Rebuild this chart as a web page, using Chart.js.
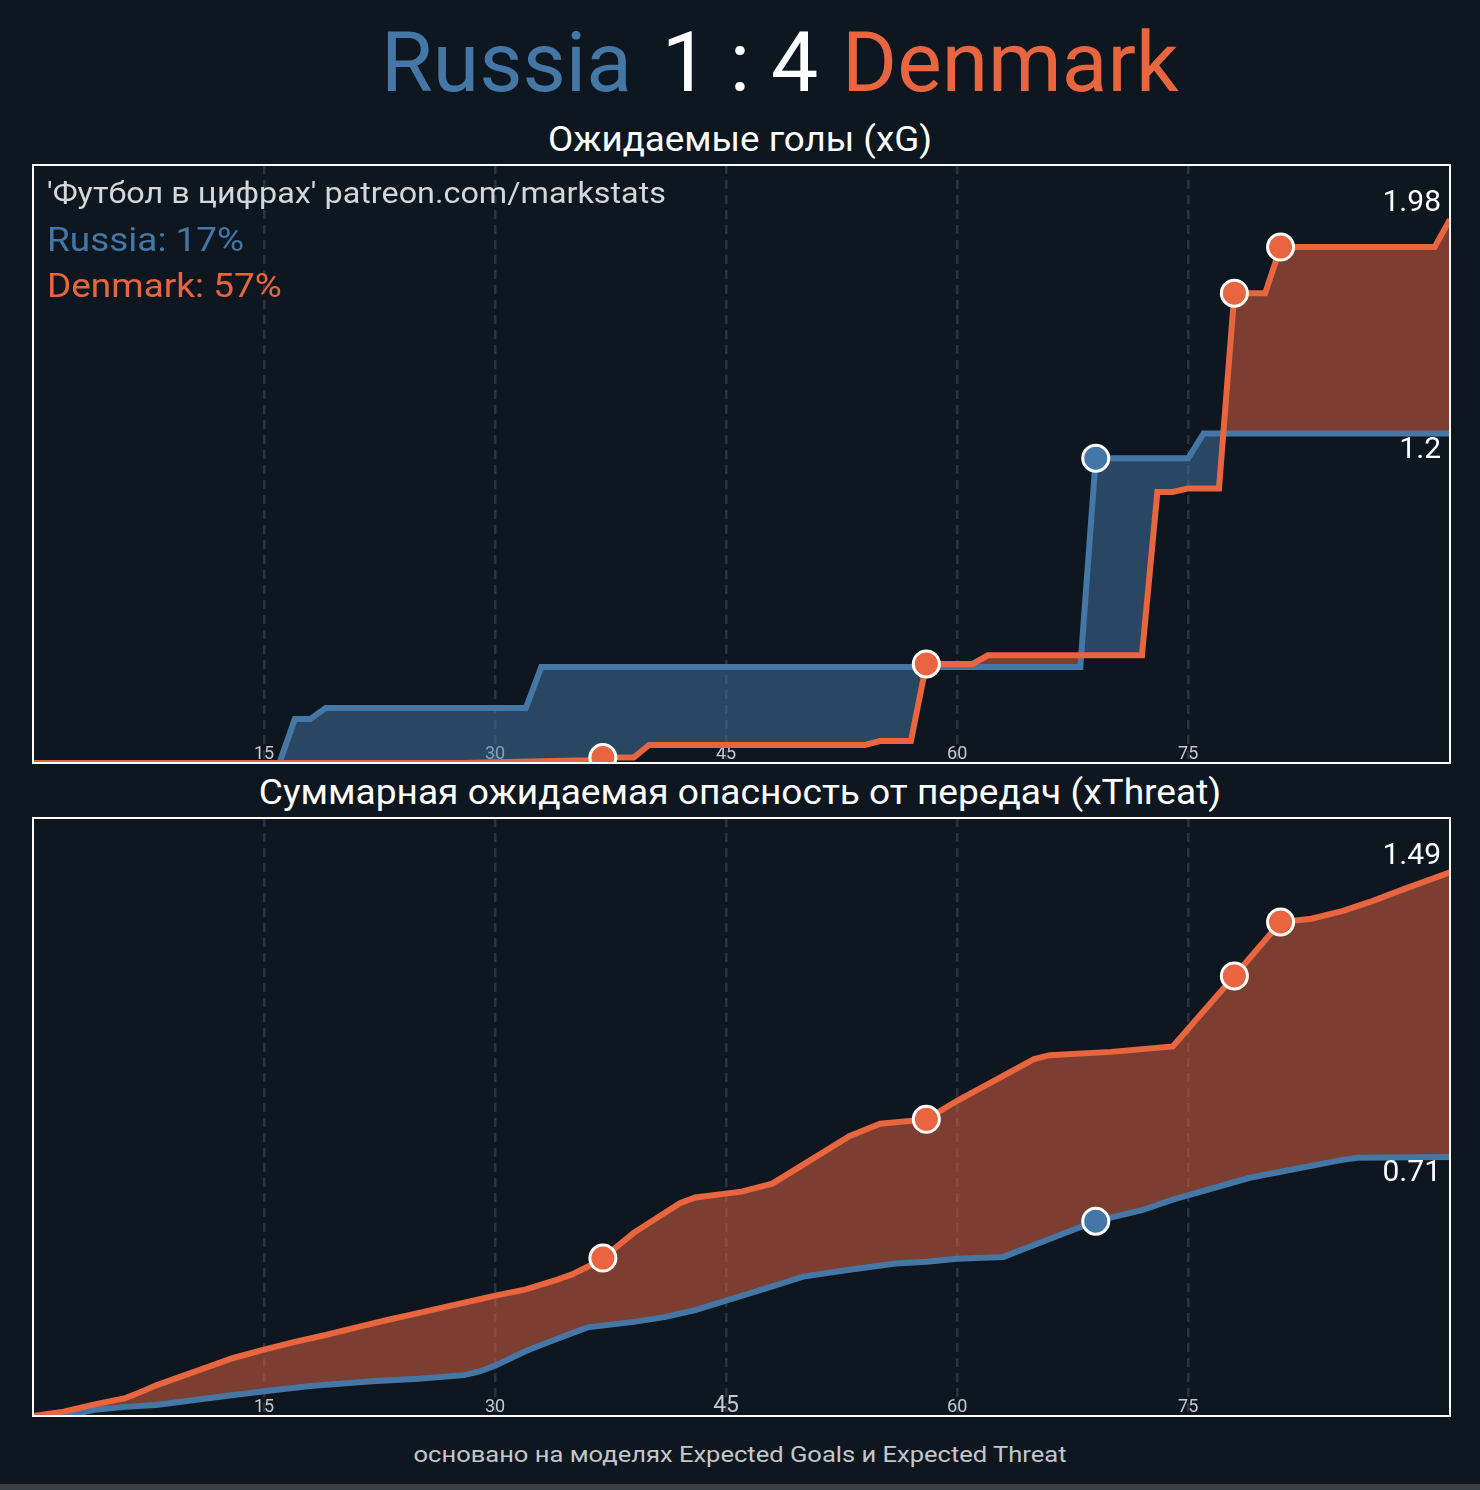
<!DOCTYPE html>
<html>
<head>
<meta charset="utf-8">
<script src="https://cdn.jsdelivr.net/npm/chart.js@4.4.0/dist/chart.umd.min.js"></script>
<style>
  body { margin: 0; background: #0e1720; font-family: Roboto, sans-serif; }
  #page { position: relative; width: 1480px; height: 1490px; overflow: hidden; background: #0e1720; }
  .t { position: absolute; white-space: nowrap; line-height: 1; }
  .l { transform-origin: 0 0; }
  .c { transform-origin: 740px 0; }
  canvas { position: absolute; left: 33px; outline: 2px solid #fff; outline-offset: -1px; }
  #bar { position: absolute; left: 0; top: 1484px; width: 1480px; height: 6px; background: #3b4046; }
</style>
</head>
<body>
<div id="page">
  <div class="t" style="right:848px; top:21px; font-size:84px; color:#4477a5;">Russia</div>
  <div class="t" style="left:0; width:1480px; text-align:center; top:21px; font-size:84px; color:#fff;">1 : 4</div>
  <div class="t" style="left:842px; top:21px; font-size:84px; color:#e8653f;">Denmark</div>

  <div class="t c" style="left:0; width:1480px; text-align:center; top:122px; font-size:35px; color:#fff; transform:scaleX(1.05);">Ожидаемые голы (xG)</div>
  <canvas id="xg" width="1417" height="598" style="top:165px;"></canvas>
  <div class="t l" style="left:47px; top:179px; font-size:29px; color:#d4d6d8; transform:scaleX(1.115);">'Футбол в цифрах' patreon.com/markstats</div>
  <div class="t l" style="left:47px; top:223px; font-size:33px; color:#4477a5; transform:scaleX(1.12);">Russia: 17%</div>
  <div class="t l" style="left:47px; top:269px; font-size:33px; color:#e8653f; transform:scaleX(1.12);">Denmark: 57%</div>

  <div class="t c" style="left:0; width:1480px; text-align:center; top:775px; font-size:35px; color:#fff; transform:scaleX(1.06);">Суммарная ожидаемая опасность от передач (xThreat)</div>
  <canvas id="xt" width="1417" height="598" style="top:818px;"></canvas>

  <div class="t c" style="left:0; width:1480px; text-align:center; top:1444px; font-size:22px; color:#c4c7ca; transform:scaleX(1.16);">основано на моделях Expected Goals и Expected Threat</div>
  <div id="bar"></div>
</div>
<script>
// match minutes
const xMax = 92;
const tickMinutes = [15, 30, 45, 60, 75];
const goalsRussia = [69];
const goalsDenmark = [37, 58, 78, 81];

// xG, cumulative
const rusXgMin = [0, 16, 17, 18, 19, 32, 33, 68, 69, 75, 76, 92];
const rusXg    = [0, 0, 0.16, 0.16, 0.2, 0.2, 0.35, 0.35, 1.11, 1.11, 1.2, 1.2];
const denXgMin = [0, 28, 36, 37, 39, 40, 54, 55, 57, 58, 61, 62, 72, 73, 74, 75, 77, 78, 80, 81, 91, 92];
const denXg    = [0, 0, 0.01, 0.02, 0.02, 0.066, 0.066, 0.08, 0.08, 0.361, 0.361, 0.392, 0.392, 0.987, 0.987, 1.0, 1.0, 1.711, 1.711, 1.879, 1.879, 1.98];

// xThreat, cumulative
const rusXtMin = [0, 3, 4, 6, 8, 10, 12, 15, 18, 22, 25, 28, 29, 30, 32, 34, 36, 39, 41, 43, 48, 50, 53, 56, 58, 60, 63, 66, 69, 72, 74, 79, 85, 86, 92];
const rusXt    = [0, 0.008, 0.017, 0.025, 0.03, 0.041, 0.052, 0.068, 0.082, 0.095, 0.102, 0.112, 0.122, 0.138, 0.178, 0.211, 0.243, 0.258, 0.271, 0.29, 0.355, 0.382, 0.401, 0.418, 0.423, 0.431, 0.436, 0.485, 0.534, 0.564, 0.593, 0.653, 0.702, 0.708, 0.71];
const denXtMin = [0, 2, 4, 6, 7, 8, 13, 15, 17, 19, 21, 23, 25, 27, 29, 30, 32, 34, 35, 36, 37, 39, 42, 43, 46, 48, 53, 55, 58, 60, 65, 66, 70, 74, 78, 81, 83, 85, 87, 89, 92];
const denXt    = [0, 0.012, 0.032, 0.049, 0.066, 0.084, 0.159, 0.182, 0.203, 0.222, 0.243, 0.263, 0.282, 0.301, 0.32, 0.33, 0.347, 0.373, 0.388, 0.409, 0.433, 0.502, 0.583, 0.599, 0.615, 0.637, 0.767, 0.801, 0.813, 0.864, 0.978, 0.989, 0.998, 1.013, 1.206, 1.354, 1.363, 1.384, 1.412, 1.444, 1.49];

const BLUE = '#4477a5';
const ORANGE = '#e8653f';
const GRID = '#28333e';

function pts(mins, vals) {
  return mins.map((m, i) => ({ x: m, y: vals[i] }));
}
function goalRadius(goals) {
  return c => (c.raw && goals.includes(c.raw.x)) ? 13 : 0;
}

// minute labels sit inside the plot, under the lines
const tickLabels = {
  id: 'tickLabels',
  beforeDatasetsDraw(chart, args, opts) {
    const { ctx, chartArea, scales: { x } } = chart;
    ctx.save();
    ctx.fillStyle = '#c4c8cc';
    ctx.textAlign = 'center';
    ctx.textBaseline = 'alphabetic';
    tickMinutes.forEach(m => {
      const big = (opts.big || []).includes(m);
      ctx.font = (big ? 23 : 18) + 'px Roboto';
      ctx.fillText(String(m), x.getPixelForValue(m), chartArea.bottom - 4);
    });
    ctx.restore();
  }
};

// final totals at the right edge
const endLabels = {
  id: 'endLabels',
  afterDatasetsDraw(chart) {
    const { ctx, chartArea, scales: { y } } = chart;
    const vals = chart.data.datasets.map(d => d.data[d.data.length - 1].y);
    const hi = Math.max(...vals);
    ctx.save();
    ctx.font = '30px Roboto';
    ctx.fillStyle = '#ffffff';
    ctx.textAlign = 'right';
    ctx.textBaseline = 'alphabetic';
    vals.forEach(v => {
      const py = y.getPixelForValue(v);
      ctx.fillText(String(v), chartArea.right - 9, v === hi ? py - 8 : py + 24);
    });
    ctx.restore();
  }
};

function makePanel(id, rusMin, rusVal, denMin, denVal, big) {
  const yMax = Math.max(...rusVal, ...denVal) * 1.1;
  const line = {
    borderWidth: 6,
    pointBorderColor: '#ffffff',
    pointBorderWidth: 3,
    pointHoverRadius: 0,
    tension: 0
  };
  return new Chart(document.getElementById(id), {
    type: 'line',
    data: {
      datasets: [
        Object.assign({
          label: 'Denmark',
          data: pts(denMin, denVal),
          borderColor: ORANGE,
          pointBackgroundColor: ORANGE,
          pointRadius: goalRadius(goalsDenmark),
          fill: false
        }, line),
        Object.assign({
          label: 'Russia',
          data: pts(rusMin, rusVal),
          borderColor: BLUE,
          pointBackgroundColor: BLUE,
          pointRadius: goalRadius(goalsRussia),
          fill: { target: 0, above: 'rgba(68,119,165,0.5)', below: 'rgba(232,101,63,0.5)' }
        }, line)
      ]
    },
    options: {
      responsive: false,
      animation: false,
      devicePixelRatio: 1,
      layout: { padding: 0 },
      events: [],
      plugins: {
        legend: { display: false },
        tooltip: { enabled: false },
        tickLabels: { big: big }
      },
      scales: {
        x: {
          type: 'linear',
          min: 0,
          max: xMax,
          afterBuildTicks: s => { s.ticks = tickMinutes.map(v => ({ value: v })); },
          ticks: { display: false },
          grid: { color: GRID, lineWidth: 2.5, drawTicks: false },
          border: { display: false, dash: [9, 6] }
        },
        y: { display: false, min: 0, max: yMax }
      }
    },
    plugins: [tickLabels, endLabels]
  });
}

makePanel('xg', rusXgMin, rusXg, denXgMin, denXg, []);
makePanel('xt', rusXtMin, rusXt, denXtMin, denXt, [45]);
</script>
</body>
</html>
